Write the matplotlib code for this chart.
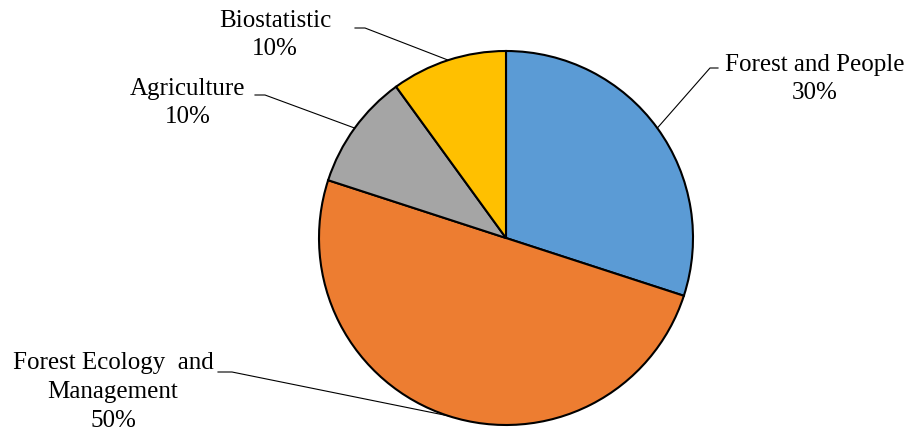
import matplotlib.pyplot as plt
import numpy as np

plt.rcParams['font.family'] = ['Liberation Serif', 'DejaVu Serif']

labels = ["Forest and People", "Forest Ecology  and\nManagement", "Agriculture", "Biostatistic"]
shares = [30, 50, 10, 10]
colors = ["#5B9BD5", "#ED7D31", "#A5A5A5", "#FFC000"]

# label block centre, leader elbow and leader end (pixel coords, y down)
label_pos = [(815, 79), (113, 392), (188, 103), (275, 35)]
elbows = [(710, 68), (232, 372), (265, 95), (365, 28)]
ends = [(718, 68), (218, 372), (255, 95), (355, 28)]

W, H = 914, 436
cx, cy, r = 506, 238, 187

fig = plt.figure(figsize=(W / 100, H / 100), dpi=100)
ax = fig.add_axes([0, 0, 1, 1])

wedges, _ = ax.pie(shares, colors=colors, startangle=90, counterclock=False,
                   center=(cx, H - cy), radius=r,
                   wedgeprops=dict(edgecolor="black", linewidth=1.5))
ax.set_xlim(0, W)
ax.set_ylim(0, H)
ax.set_aspect("equal")
ax.axis("off")

for w, lab, share, lp, el, en in zip(wedges, labels, shares, label_pos, elbows, ends):
    mid = np.deg2rad((w.theta1 + w.theta2) / 2)
    px, py = cx + r * np.cos(mid), (H - cy) + r * np.sin(mid)
    ax.plot([px, el[0], en[0]], [py, H - el[1], H - en[1]], color="black", lw=0.8)
    ax.text(lp[0], H - lp[1], f"{lab}\n{share}%", ha="center", va="center",
            multialignment="center", fontsize=18, linespacing=1.4)

fig.savefig("out.png", dpi=100)
